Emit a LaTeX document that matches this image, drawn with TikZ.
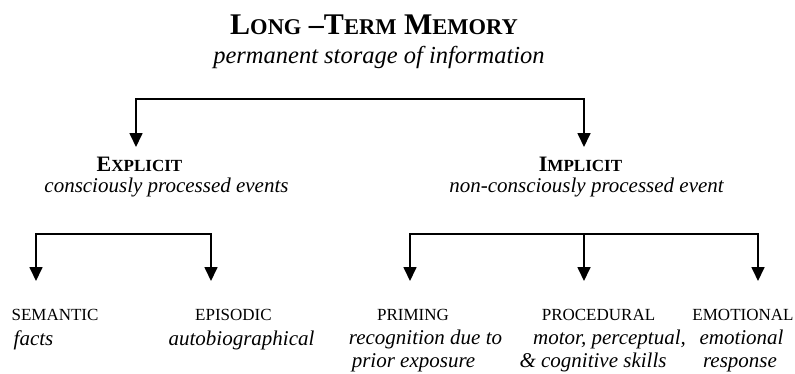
\documentclass[tikz,border=0pt]{standalone}
\usepackage{fontspec}
\setmainfont{Liberation Serif}
\usepackage{tikz}
\usetikzlibrary{arrows.meta}

\newcommand{\smcaps}[2]{{\fontsize{#1}{#1}\selectfont #2}}

\tikzset{
  title/.style={anchor=base, inner sep=0pt, font=\fontsize{30}{30}\selectfont\bfseries},
  maindesc/.style={anchor=base, inner sep=0pt, font=\fontsize{24.5}{28}\selectfont\itshape},
  branch/.style={anchor=base, inner sep=0pt, font=\fontsize{22}{22}\selectfont\bfseries},
  leaf/.style={anchor=base, inner sep=0pt, font=\fontsize{17}{20}\selectfont},
  desc/.style={anchor=base, inner sep=0pt, font=\fontsize{21}{25}\selectfont\itshape},
  tip/.tip={Triangle[width=13pt, length=14pt]},
  bracket/.style={line width=1.7pt}
}

\begin{document}
\begin{tikzpicture}[x=1pt, y=-1pt]
  \useasboundingbox (0,0) rectangle (795,373);
  % Root
  \node[title] (ltm) at (374,34) {L\smcaps{22.5}{ONG} --T\smcaps{22.5}{ERM} M\smcaps{22.5}{EMORY}};
  \node[maindesc] (ltmdesc) at (379,63) {permanent storage of information};
  % Second level
  \node[branch] (explicit) at (139.5,171) {E\smcaps{17}{XPLICIT}};
  \node[desc] (explicitdesc) at (166.5,192) {consciously processed events};
  \node[branch] (implicit) at (580.5,171) {I\smcaps{17}{MPLICIT}};
  \node[desc] (implicitdesc) at (586.5,192) {non-consciously processed event};
  % Leaves under explicit
  \node[leaf] (semantic) at (55,320) {SEMANTIC};
  \node[desc] (semanticdesc) at (33.5,345) {facts};
  \node[leaf] (episodic) at (233.5,320) {EPISODIC};
  \node[desc] (episodicdesc) at (241.5,345) {autobiographical};
  % Leaves under implicit
  \node[leaf] (priming) at (413,320) {PRIMING};
  \node[desc] (primingdesca) at (425.5,344) {recognition due to};
  \node[desc] (primingdescb) at (413.5,367) {prior exposure};
  \node[leaf] (procedural) at (598.5,320) {PROCEDURAL};
  \node[desc] (proceduraldesca) at (609.5,344) {motor, perceptual,};
  \node[desc] (proceduraldescb) at (593,367) {\& cognitive skills};
  \node[leaf] (emotional) at (743,320) {EMOTIONAL};
  \node[desc] (emotionaldesca) at (741.5,344) {emotional};
  \node[desc] (emotionaldescb) at (740,367) {response};
  % Arrow tips
  \coordinate (toexplicit) at (136,147);
  \coordinate (toimplicit) at (584,147);
  \coordinate (tosemantic) at (36,281);
  \coordinate (toepisodic) at (211,281);
  \coordinate (topriming) at (410,281);
  \coordinate (toprocedural) at (584,281);
  \coordinate (toemotional) at (758,281);
  \coordinate (implicitbar) at (584,234);
  % Brackets
  \draw[bracket, tip-tip] (toexplicit) |- (360,99) -| (toimplicit);
  \draw[bracket, tip-tip] (tosemantic) |- (120,234) -| (toepisodic);
  \draw[bracket, tip-tip] (topriming) |- (implicitbar) -| (toemotional);
  \draw[bracket, -tip] (implicitbar) -- (toprocedural);
\end{tikzpicture}
\end{document}
